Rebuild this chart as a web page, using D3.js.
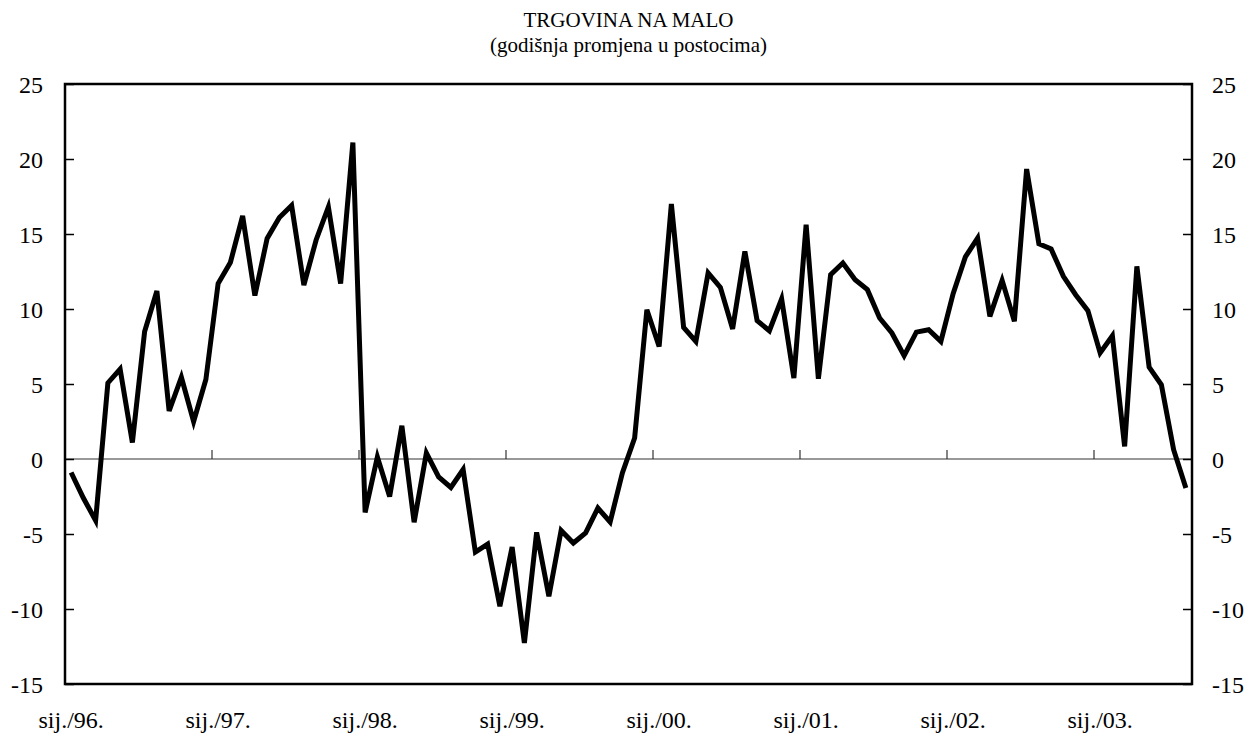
<!DOCTYPE html>
<html>
<head>
<meta charset="utf-8">
<script src="https://cdn.jsdelivr.net/npm/d3@7"></script>
<style>
    body { margin: 0; background: #fff; }
    svg { display: block; font-family: "Liberation Serif", "Times New Roman", serif; }
    .axis text { font-family: "Liberation Serif", "Times New Roman", serif; font-size: 24px; fill: #000; }
    .axis line { stroke: #000; stroke-width: 1.5; }
    .axis path { display: none; }
</style>
</head>
<body>
<svg id="chart" width="1253" height="740"></svg>
<script>
// godine i mjeseci (sij./96. - kol./03.)
const years = ["96", "97", "98", "99", "00", "01", "02", "03"];
const monthNames = ["sij.", "velj.", "ožu.", "tra.", "svi.", "lip.", "srp.", "kol.", "ruj.", "lis.", "stu.", "pro."];
const lastMonthCount = 8;

// trgovina na malo, godišnja promjena u %
const retailValues = [
    -0.9, -2.6, -4.1, 5.07, 6.0, 1.1, 8.5, 11.2, 3.2, 5.45, 2.5, 5.3,
    11.7, 13.1, 16.2, 10.9, 14.7, 16.1, 16.9, 11.6, 14.6, 16.8, 11.7, 21.1,
    -3.56, 0.13, -2.5, 2.22, -4.22, 0.4, -1.2, -1.9, -0.7, -6.2, -5.67, -9.82,
    -5.87, -12.27, -4.89, -9.16, -4.76, -5.6, -4.93, -3.27, -4.2, -0.93, 1.4, 9.95,
    7.5, 17.0, 8.77, 7.84, 12.4, 11.44, 8.67, 13.84, 9.22, 8.55, 10.67, 5.4,
    15.62, 5.35, 12.29, 13.07, 11.95, 11.29, 9.4, 8.4, 6.89, 8.46, 8.62, 7.84,
    11.02, 13.47, 14.73, 9.51, 11.91, 9.18, 19.33, 14.35, 14.0, 12.18, 10.95, 9.89,
    7.07, 8.22, 0.84, 12.84, 6.13, 4.95, 0.62, -1.93
];

const yTicks = [-15, -10, -5, 0, 5, 10, 15, 20, 25];
const titleText = "TRGOVINA NA MALO";
const subtitleText = "(godišnja promjena u postocima)";

let categories = [];
years.forEach(function (yr, k) {
    let n = (k === years.length - 1) ? lastMonthCount : 12;
    for (let m = 0; m < n; m++) {
        categories.push(monthNames[m] + "/" + yr + ".");
    }
});

let data = categories.map(function (c, i) {
    return {cat: c, value: retailValues[i]};
});

let margin = {top: 84, right: 61, bottom: 56, left: 65},
    width = 1253 - margin.left - margin.right,
    height = 740 - margin.top - margin.bottom;

let svg = d3.select("#chart");

let g = svg.append("g")
    .attr("transform", "translate(" + margin.left + "," + margin.top + ")");

let x = d3.scaleBand()
    .domain(categories)
    .range([0, width])
    .padding(0);

let y = d3.scaleLinear()
    .domain([-15, 25])
    .range([height, 0]);

// naslov
svg.append("text")
    .attr("x", margin.left + width / 2)
    .attr("y", 27)
    .attr("text-anchor", "middle")
    .style("font-size", "21px")
    .text(titleText);

svg.append("text")
    .attr("x", margin.left + width / 2)
    .attr("y", 52)
    .attr("text-anchor", "middle")
    .style("font-size", "21px")
    .text(subtitleText);

// nulta linija
g.append("line")
    .attr("x1", 0)
    .attr("x2", width)
    .attr("y1", y(0))
    .attr("y2", y(0))
    .attr("stroke", "#333")
    .attr("stroke-width", 1.2);

// oznake godina na nultoj liniji
let janCats = categories.filter(function (c, i) { return i > 0 && c.indexOf("sij.") === 0; });
g.selectAll("line.year-tick")
    .data(janCats)
    .enter().append("line")
    .attr("class", "year-tick")
    .attr("x1", function (d) { return x(d); })
    .attr("x2", function (d) { return x(d); })
    .attr("y1", y(0))
    .attr("y2", y(0) - 9)
    .attr("stroke", "#333")
    .attr("stroke-width", 1.2);

// osi (crtica umjesto znaka minus, kao u izvorniku)
let fmt = function (d) { return String(d); };

g.append("g")
    .attr("class", "axis axis--left")
    .call(d3.axisLeft(y).tickValues(yTicks).tickSize(-9).tickPadding(22).tickFormat(fmt));

g.append("g")
    .attr("class", "axis axis--right")
    .attr("transform", "translate(" + width + ",0)")
    .call(d3.axisRight(y).tickValues(yTicks).tickSize(-9).tickPadding(20).tickFormat(fmt));

g.selectAll(".axis").attr("font-family", null).attr("font-size", null);
g.selectAll(".axis text").attr("dy", "0.35em");

// oznake x osi (samo siječanj)
let janAll = categories.filter(function (c) { return c.indexOf("sij.") === 0; });
g.selectAll("text.x-label")
    .data(janAll)
    .enter().append("text")
    .attr("class", "x-label")
    .attr("x", function (d) { return x(d) + x.bandwidth() / 2; })
    .attr("y", height + 44)
    .attr("text-anchor", "middle")
    .style("font-size", "24px")
    .text(function (d) { return d; });

// okvir
g.append("rect")
    .attr("x", 0)
    .attr("y", 0)
    .attr("width", width)
    .attr("height", height)
    .attr("fill", "none")
    .attr("stroke", "#000")
    .attr("stroke-width", 2.5);

// linija
let line = d3.line()
    .x(function (d) { return x(d.cat) + x.bandwidth() / 2; })
    .y(function (d) { return y(d.value); });

g.append("path")
    .datum(data)
    .attr("fill", "none")
    .attr("stroke", "#000")
    .attr("stroke-width", 5)
    .attr("d", line);
</script>
</body>
</html>
